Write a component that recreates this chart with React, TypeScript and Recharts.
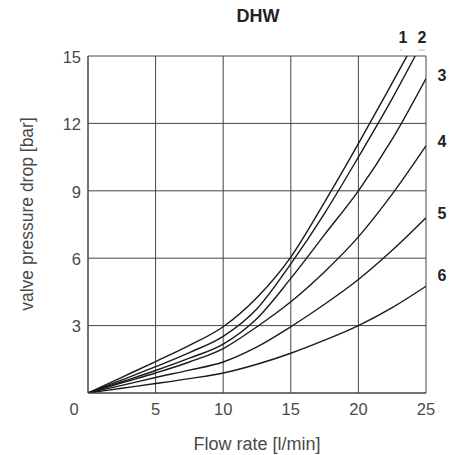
import React from 'react';
import { LineChart, Line, XAxis, YAxis, CartesianGrid } from 'recharts';

const xTicks = [0, 5, 10, 15, 20, 25];
const yTicks = [0, 3, 6, 9, 12, 15];
const curveNames = ['1', '2', '3', '4', '5', '6'];

const curve1Flow = [0, 2.5, 5, 7.5, 10, 12.5, 15, 17.5, 20, 22.5, 23.6];
const curve1Drop = [0, 0.7, 1.4, 2.12, 2.95, 4.25, 6.05, 8.5, 11.1, 13.8, 15];

const curve2Flow = [0, 2.5, 5, 7.5, 10, 12.5, 15, 17.5, 20, 22.5, 24.2];
const curve2Drop = [0, 0.58, 1.17, 1.8, 2.52, 3.75, 5.75, 8.0, 10.5, 13.1, 15];

const curve3Flow = [0, 2.5, 5, 7.5, 10, 12.5, 15, 17.5, 20, 22.5, 25];
const curve3Drop = [0, 0.5, 1.0, 1.55, 2.18, 3.32, 5.1, 7.05, 9.0, 11.3, 14];

const curve4Flow = [0, 2.5, 5, 7.5, 10, 12.5, 15, 17.5, 20, 22.5, 25];
const curve4Drop = [0, 0.45, 0.89, 1.38, 1.98, 2.95, 4.06, 5.4, 6.95, 8.85, 11];

const curve5Flow = [0, 2.5, 5, 7.5, 10, 12.5, 15, 17.5, 20, 22.5, 25];
const curve5Drop = [0, 0.34, 0.69, 1.02, 1.38, 2.05, 2.95, 3.95, 5.05, 6.35, 7.8];

const curve6Flow = [0, 2.5, 5, 7.5, 10, 12.5, 15, 17.5, 20, 22.5, 25];
const curve6Drop = [0, 0.21, 0.42, 0.64, 0.89, 1.28, 1.77, 2.35, 3, 3.8, 4.75];

const zip = (q: number[], p: number[]) => q.map((v, i) => ({ q: v, p: p[i] }));

const curves = [
  zip(curve1Flow, curve1Drop),
  zip(curve2Flow, curve2Drop),
  zip(curve3Flow, curve3Drop),
  zip(curve4Flow, curve4Drop),
  zip(curve5Flow, curve5Drop),
  zip(curve6Flow, curve6Drop),
];

const FONT = '"Liberation Sans", Arial, Helvetica, sans-serif';
const TEXT = '#4a4a4a';

const XTick = (props: any) => {
  const { x, y, payload } = props;
  const v = payload.value;
  return (
    <text x={v === 0 ? x - 14 : x} y={y} dy="0.71em" textAnchor="middle" fontSize={16.5} fontFamily={FONT} fill={TEXT}>
      {v}
    </text>
  );
};

const YTick = (props: any) => {
  const { x, y, payload } = props;
  if (payload.value === 0) return null;
  return (
    <text x={x} y={y + 1} dy="0.355em" textAnchor="end" fontSize={16.5} fontFamily={FONT} fill={TEXT}>
      {payload.value}
    </text>
  );
};

const labelPos = [
  { x: 403, y: 37 },
  { x: 422, y: 37 },
  { x: 442, y: 75 },
  { x: 442, y: 141 },
  { x: 442, y: 213 },
  { x: 442, y: 275 },
];

export default function App() {
  return (
    <div style={{ position: 'absolute', left: 0, top: 0, width: 456, height: 455, background: '#fff' }}>
      <LineChart width={456} height={455} margin={{ top: 56, right: 30, bottom: 32, left: 28 }}>
        <CartesianGrid stroke="#444" strokeWidth={1} />
        <XAxis
          dataKey="q"
          type="number"
          domain={[0, 25]}
          ticks={xTicks}
          allowDataOverflow
          height={30}
          tickLine={false}
          tickSize={0}
          tickMargin={10}
          axisLine={{ stroke: '#444' }}
          tick={<XTick />}
          interval={0}
        />
        <YAxis
          type="number"
          domain={[0, 15]}
          ticks={yTicks}
          allowDataOverflow
          width={60}
          tickLine={false}
          tickSize={0}
          tickMargin={7}
          axisLine={{ stroke: '#444' }}
          tick={<YTick />}
          interval={0}
        />
        {curves.map((d, i) => (
          <Line
            key={curveNames[i]}
            data={d}
            dataKey="p"
            type="monotone"
            stroke="#1a1a1a"
            strokeWidth={1.4}
            dot={false}
            activeDot={false}
            isAnimationActive={false}
          />
        ))}
      </LineChart>
      <svg width={456} height={455} style={{ position: 'absolute', left: 0, top: 0, pointerEvents: 'none' }}>
        <text x={258} y={21.5} textAnchor="middle" fontSize={18} fontWeight="bold" fontFamily={FONT} fill="#222">
          DHW
        </text>
        {curveNames.map((n, i) => (
          <text key={n} x={labelPos[i].x} y={labelPos[i].y} dy="0.355em" textAnchor="middle" fontSize={16} fontWeight="bold" fontFamily={FONT} fill="#222">
            {n}
          </text>
        ))}
        <line x1={400} x2={402} y1={50} y2={50} stroke="#bbb" strokeWidth={1} />
        <line x1={419} x2={425} y1={50} y2={50} stroke="#bbb" strokeWidth={1} />
        <text x={257} y={444} dy="0.355em" textAnchor="middle" fontSize={18} fontFamily={FONT} fill={TEXT}>
          Flow rate [l/min]
        </text>
        <text
          x={27}
          y={214}
          dy="0.355em"
          textAnchor="middle"
          fontSize={17.5}
          fontFamily={FONT}
          fill={TEXT}
          transform="rotate(-90 27 214)"
        >
          valve pressure drop [bar]
        </text>
      </svg>
    </div>
  );
}
